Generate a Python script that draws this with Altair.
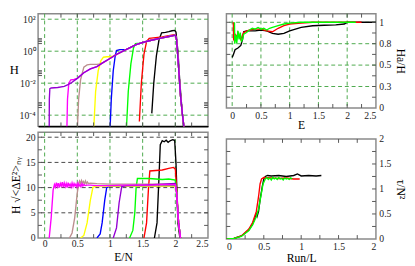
import altair as alt
import pandas as pd

FONT = "Liberation Serif"
FRAME = "#8a8a8a"
TICK = "#555555"
GGRID = "#4aa84a"
KGRID = "#444444"

# ---------------- Panel 1 (top-left): H vs E/N, log scale ----------------
env_x = [0.10, 0.20, 0.30, 0.35, 0.40, 0.50, 0.60, 0.70, 0.80, 0.90, 1.00,
         1.10, 1.20, 1.30, 1.40, 1.50, 1.60, 1.70, 1.80, 1.90, 2.00]
env_h = [5.0e-3, 5.4e-3, 6.3e-3, 7.9e-3, 1.0e-2, 2.0e-2, 4.5e-2, 7.9e-2, 0.11, 0.20, 0.35,
         0.63, 1.0, 1.6, 2.6, 3.5, 4.5, 5.6, 6.8, 8.3, 10.0]
tail_x = [2.02, 2.05, 2.08, 2.11, 2.14]
tail_h = [5.0, 0.1, 1.6e-3, 1e-4, 1e-5]

p1_violet_x = [0.07, 0.072, 0.08]
p1_violet_h = [1e-5, 1e-3, 4.6e-3]
p1_magenta_x = [0.34, 0.35, 0.37, 0.40, 0.45, 0.50]
p1_magenta_h = [1e-5, 1e-3, 1.0e-2, 1.6e-2, 1.7e-2, 2.0e-2]
p1_brown_x = [0.50, 0.52, 0.55, 0.60, 0.65, 0.70, 0.75, 0.80, 0.85]
p1_brown_h = [1e-5, 1e-3, 1.6e-2, 0.10, 0.14, 0.15, 0.15, 0.15, 0.16]
p1_yellow_x = [0.75, 0.78, 0.82, 0.86, 0.90, 0.95, 1.00, 1.05]
p1_yellow_h = [1e-5, 3e-3, 6e-2, 0.25, 0.42, 0.45, 0.45, 0.48]
p1_blue_x = [1.00, 1.02, 1.05, 1.08, 1.10, 1.15, 1.20, 1.25]
p1_blue_h = [1e-5, 1e-3, 6e-2, 0.5, 1.1, 1.25, 1.25, 1.3]
p1_green_x = [1.25, 1.28, 1.32, 1.36, 1.39, 1.45]
p1_green_h = [1e-5, 3e-3, 0.16, 1.6, 3.0, 3.2]
p1_red_x = [1.45, 1.48, 1.52, 1.56, 1.60, 1.70, 1.80, 1.90, 2.00, 2.02, 2.05, 2.08, 2.11, 2.14]
p1_red_h = [4e-5, 1e-2, 0.63, 4.0, 6.3, 7.1, 7.9, 9.5, 11.2, 5.0, 0.1, 1.6e-3, 1e-4, 1e-5]
p1_black_x = [1.64, 1.67, 1.71, 1.75, 1.79, 1.85, 1.90, 1.95, 1.99, 2.01, 2.04, 2.07, 2.10, 2.13]
p1_black_h = [1.3e-4, 1e-2, 0.5, 5.0, 14.0, 15.0, 16.6, 19.0, 20.0, 16.0, 1.0, 1e-2, 3e-4, 1e-5]

p1_ytick_vals = [1e-4, 1e-2, 1, 100]
p1_ytick_text = ["10⁻⁴", "10⁻²", "10⁰", "10²"]
p1_minor_y = [3e-4, 4e-4, 5e-4, 6e-4, 3e-2, 4e-2, 5e-2, 6e-2, 3, 4, 5, 6]
p1_grid_x = [0, 0.5, 1, 1.5, 2]
p1_grid_y = [1e-4, 1e-2, 1, 100]
p1_ticks_x = [0.25, 0.5, 0.75, 1.0, 1.25, 1.5, 1.75, 2.0, 2.25]

# ---------------- Panel 2 (bottom-left): H sqrt(<dE^2>) vs E/N ----------------
p2_magenta_x = [0.07, 0.10, 0.13, 0.15, 0.165, 0.18, 0.195, 0.21, 0.225, 0.24, 0.255, 0.27,
                0.285, 0.30, 0.315, 0.33, 0.345, 0.36, 0.375, 0.39, 0.405, 0.42, 0.435,
                0.45, 0.465, 0.48, 0.495, 0.51, 0.525, 0.54, 0.555, 0.57, 0.585, 0.60,
                0.62, 0.65, 0.70, 0.80, 1.00, 1.20, 1.40, 1.60, 1.80, 2.00, 2.02, 2.05, 2.08]
p2_magenta_y = [0.0, 4.0, 9.5, 10.6, 10.1, 11.0, 10.2, 10.9, 10.0, 10.8, 10.3, 11.1,
                10.1, 10.9, 10.2, 10.8, 10.0, 11.0, 10.3, 10.7, 10.1, 10.9, 10.2,
                10.8, 10.3, 10.7, 10.1, 10.9, 10.3, 10.6, 10.2, 10.8, 10.3, 10.6,
                10.4, 10.5, 10.5, 10.4, 10.4, 10.5, 10.5, 10.5, 10.6, 10.6, 9.0, 3.0, 0.0]
p2_brown_x = [0.38, 0.42, 0.46, 0.50, 0.52, 0.535, 0.55, 0.565, 0.58, 0.595, 0.61, 0.625,
              0.64, 0.655, 0.67, 0.70, 0.80, 1.00, 1.50, 2.00, 2.02, 2.05, 2.08]
p2_brown_y = [0.0, 1.0, 4.0, 9.0, 10.6, 11.3, 10.8, 11.4, 10.9, 11.2, 10.7, 11.3,
              10.8, 11.1, 10.8, 10.9, 10.8, 10.7, 10.7, 10.7, 9.0, 3.0, 0.0]
p2_yellow_x = [0.55, 0.60, 0.65, 0.70, 0.74, 0.80, 1.20, 1.60, 2.00, 2.02, 2.05, 2.08]
p2_yellow_y = [0.0, 0.5, 3.0, 7.5, 10.1, 10.3, 10.3, 10.3, 10.3, 9.0, 3.0, 0.0]
p2_blue_x = [0.80, 0.85, 0.88, 0.92, 0.95, 1.00, 1.50, 2.00, 2.02, 2.05, 2.08]
p2_blue_y = [0.0, 0.8, 3.0, 7.5, 10.0, 10.3, 10.3, 10.4, 9.0, 3.0, 0.0]
p2_violet_x = [1.05, 1.10, 1.14, 1.18, 1.25, 1.50, 1.80, 2.00, 2.02, 2.05, 2.08]
p2_violet_y = [0.0, 2.0, 7.0, 10.2, 10.4, 10.5, 10.7, 10.8, 9.0, 3.0, 0.0]
p2_green_x = [1.30, 1.35, 1.38, 1.40, 1.42, 1.60, 1.80, 1.90, 2.00, 2.02, 2.05, 2.08]
p2_green_y = [0.0, 1.5, 5.0, 10.0, 11.8, 11.8, 11.6, 11.7, 11.5, 9.5, 3.0, 0.0]
p2_red_x = [1.52, 1.56, 1.59, 1.61, 1.70, 1.80, 1.90, 1.97, 2.00, 2.02, 2.05, 2.08]
p2_red_y = [0.0, 3.0, 10.0, 13.3, 13.4, 13.5, 13.8, 14.0, 13.7, 10.0, 3.0, 0.0]
p2_black_x = [1.68, 1.72, 1.75, 1.77, 1.80, 1.83, 1.86, 1.89, 1.92, 1.96, 1.99, 2.01, 2.04, 2.07]
p2_black_y = [0.0, 3.0, 12.0, 18.5, 19.3, 19.1, 19.4, 19.0, 19.3, 19.5, 19.4, 15.0, 3.0, 0.0]

p2_xtick_vals = [0, 0.5, 1, 1.5, 2, 2.5]
p2_ytick_vals = [0, 5, 10, 15, 20]
p2_grid_x = [0, 0.5, 1, 1.5, 2]
p2_grid_y = [5, 10, 15, 20]
p2_ticks_x = [0.25, 0.5, 0.75, 1.0, 1.25, 1.5, 1.75, 2.0, 2.25]
p2_ticks_y = [2.5, 5, 7.5, 10, 12.5, 15, 17.5, 20]

# ---------------- Panel 3 (top-right): Ha/H vs E ----------------
p3_black_x = [0.0, 0.02, 0.05, 0.10, 0.15, 0.18, 0.20, 0.25, 0.30, 0.40, 0.50, 0.60, 0.70,
              0.80, 0.90, 1.00, 1.20, 1.40, 1.60, 1.80, 1.95, 2.00, 2.50]
p3_black_y = [0.59, 0.62, 0.68, 0.70, 0.73, 0.80, 0.89, 0.90, 0.90, 0.90, 0.91, 0.90, 0.87,
              0.86, 0.87, 0.90, 0.94, 0.96, 0.965, 0.97, 0.98, 1.0, 1.0]
p3_red_x = [0.02, 0.025, 0.04, 0.06, 0.08, 0.10, 0.15, 0.20, 0.30, 0.40, 0.50, 0.60, 0.70,
            0.80, 0.90, 1.00, 1.20, 1.40, 2.25]
p3_red_y = [1.0, 0.80, 0.78, 0.85, 0.82, 0.88, 0.80, 0.88, 0.91, 0.92, 0.92, 0.90, 0.89,
            0.93, 0.96, 0.98, 0.99, 1.0, 1.0]
p3_green_x = [0.04, 0.045, 0.06, 0.08, 0.10, 0.12, 0.14, 0.16, 0.18, 0.20, 0.25, 0.30, 0.35,
              0.40, 0.45, 0.50, 0.55, 0.60, 0.65, 0.70, 0.80, 0.90, 1.00, 1.20, 2.15]
p3_green_y = [1.0, 0.75, 0.85, 0.76, 0.90, 0.80, 0.88, 0.78, 0.80, 0.86, 0.88, 0.91, 0.93,
              0.92, 0.94, 0.92, 0.93, 0.91, 0.93, 0.94, 0.96, 0.98, 0.99, 1.0, 1.0]
p3_xtick_vals = [0, 0.5, 1, 1.5, 2, 2.5]
p3_ytick_vals = [0, 0.25, 0.5, 0.75, 1]
p3_grid_x = [0, 0.5, 1, 1.5, 2]
p3_grid_y = [0.25, 0.5, 0.75, 1]
p3_ticks_x = [0.25, 0.5, 0.75, 1.0, 1.25, 1.5, 1.75, 2.0, 2.25]
p3_ticks_y = [0.125, 0.25, 0.375, 0.5, 0.625, 0.75, 0.875, 1.0]

# ---------------- Panel 4 (bottom-right): tau/N^2 vs Run/L ----------------
p4_black_x = [0.0, 0.10, 0.20, 0.30, 0.35, 0.38, 0.40, 0.41, 0.43, 0.45, 0.48, 0.50, 0.52,
              0.55, 0.60, 0.70, 0.80, 0.90, 0.95, 1.00, 1.10, 1.20, 1.27]
p4_black_y = [0.0, 0.01, 0.06, 0.18, 0.30, 0.42, 0.50, 0.45, 0.55, 0.78, 1.05, 1.20, 1.25,
              1.27, 1.26, 1.27, 1.25, 1.27, 1.30, 1.26, 1.27, 1.26, 1.27]
p4_red_x = [0.0, 0.10, 0.20, 0.30, 0.35, 0.40, 0.43, 0.45, 0.47, 0.50, 0.60, 0.70, 0.80, 0.90, 0.98]
p4_red_y = [0.0, 0.01, 0.06, 0.20, 0.33, 0.55, 0.85, 1.10, 1.20, 1.23, 1.22, 1.21, 1.22, 1.20, 1.20]
p4_green_x = [0.0, 0.10, 0.20, 0.30, 0.35, 0.40, 0.43, 0.46, 0.49, 0.52, 0.54, 0.56, 0.58,
              0.60, 0.62, 0.64, 0.66, 0.68, 0.70, 0.72, 0.74, 0.76, 0.78, 0.80, 0.82, 0.84, 0.86, 0.88]
p4_green_y = [0.0, 0.01, 0.05, 0.17, 0.28, 0.45, 0.60, 0.85, 1.10, 1.20, 1.23, 1.19, 1.22,
              1.18, 1.23, 1.20, 1.22, 1.19, 1.23, 1.20, 1.21, 1.18, 1.22, 1.20, 1.21, 1.19, 1.22, 1.20]
p4_xtick_vals = [0, 0.5, 1, 1.5, 2]
p4_ytick_vals = [0, 0.5, 1, 1.5, 2]
p4_ticks_x = [0.25, 0.5, 0.75, 1.0, 1.25, 1.5, 1.75]
p4_ticks_y = [0.25, 0.5, 0.75, 1.0, 1.25, 1.5, 1.75]

VIOLET, MAGENTA, BROWN, YELLOW = "#9400d3", "#ff00ff", "#bc8f8f", "#ffff00"
BLUE, GREEN, RED, BLACK = "#0000ff", "#00ff00", "#ff0000", "#000000"


def with_env(rx, rh, start):
    xs = list(rx) + [x for x in env_x if x >= start] + tail_x
    hs = list(rh) + [h for x, h in zip(env_x, env_h) if x >= start] + tail_h
    return xs, hs


def panel(series, w, h, X, Y, vgrid, vcol, hgrid, hcol, xt, yt):
    # the same X / Y definitions (with identical axes) are used in every layer
    layers = []
    if vgrid:
        layers.append(alt.Chart(pd.DataFrame({"x": vgrid})).mark_rule(
            color=vcol, strokeDash=[4, 3], strokeWidth=1).encode(x=X))
    if hgrid:
        layers.append(alt.Chart(pd.DataFrame({"y": hgrid})).mark_rule(
            color=hcol, strokeDash=[4, 3], strokeWidth=1).encode(y=Y))
    for color, xs, ys in series:
        df = pd.DataFrame({"x": xs, "y": ys, "i": list(range(len(xs)))})
        layers.append(alt.Chart(df).mark_line(color=color, strokeWidth=1.4, clip=True).encode(
            x=X, y=Y, order="i:Q"))
    dxt = pd.DataFrame({"x": xt})
    dyt = pd.DataFrame({"y": yt})
    layers.append(alt.Chart(dxt).mark_rule(color=TICK).encode(
        x=X, y=alt.value(h), y2=alt.value(h - 4)))
    layers.append(alt.Chart(dxt).mark_rule(color=TICK).encode(
        x=X, y=alt.value(0), y2=alt.value(4)))
    layers.append(alt.Chart(dyt).mark_rule(color=TICK).encode(
        y=Y, x=alt.value(0), x2=alt.value(4)))
    layers.append(alt.Chart(dyt).mark_rule(color=TICK).encode(
        y=Y, x=alt.value(w), x2=alt.value(w - 4)))
    return alt.layer(*layers).properties(width=w, height=h)


# ---- panel 1
W1, H1 = 175, 116
expr = []
for i in range(len(p1_ytick_vals) - 1):
    thr = (p1_ytick_vals[i] * p1_ytick_vals[i + 1]) ** 0.5
    expr.append(f"datum.value < {thr} ? '{p1_ytick_text[i]}' : ")
label_expr1 = "".join(expr) + f"'{p1_ytick_text[-1]}'"
X1 = alt.X("x:Q", scale=alt.Scale(domain=[-0.1, 2.5], nice=False, zero=False),
           axis=alt.Axis(labels=False, title=None, domain=True, domainColor="black",
                         domainWidth=1.5, values=[0, 2.5]))
Y1 = alt.Y("y:Q", scale=alt.Scale(type="log", domain=[2e-5, 220], nice=False),
           axis=alt.Axis(values=p1_ytick_vals, labelExpr=label_expr1, title="H",
                         titleAngle=0, titleAlign="center", titleBaseline="middle",
                         titleX=-25, titleY=H1 / 2, labelPadding=3, titleFontSize=13,
                         labelOverlap=False))
s1 = [
    (BLACK, p1_black_x, p1_black_h),
    (RED, p1_red_x, p1_red_h),
    (GREEN, *with_env(p1_green_x, p1_green_h, 1.5)),
    (BLUE, *with_env(p1_blue_x, p1_blue_h, 1.3)),
    (YELLOW, *with_env(p1_yellow_x, p1_yellow_h, 1.1)),
    (BROWN, *with_env(p1_brown_x, p1_brown_h, 0.9)),
    (MAGENTA, *with_env(p1_magenta_x, p1_magenta_h, 0.6)),
    (VIOLET, *with_env(p1_violet_x, p1_violet_h, 0.1)),
]
c1 = panel(s1, W1, H1, X1, Y1, p1_grid_x, GGRID, p1_grid_y, GGRID, p1_ticks_x, p1_minor_y)

# ---- panel 2
W2, H2 = 175, 109
X2 = alt.X("x:Q", scale=alt.Scale(domain=[-0.1, 2.5], nice=False, zero=False),
           axis=alt.Axis(values=p2_xtick_vals, format="~g", title="E/N", labelPadding=1,
                         titleY=19, titleBaseline="middle", labelOverlap=False))
Y2 = alt.Y("y:Q", scale=alt.Scale(domain=[0, 21], nice=False),
           axis=alt.Axis(values=p2_ytick_vals, format="~g",
                         title="H √<ΔE²>ₙᵧ", titleAngle=270, titleAlign="center",
                         titleBaseline="middle", titleX=-23, titleY=H2 / 2, labelPadding=3,
                         labelOverlap=False))
s2 = [
    (BLACK, p2_black_x, p2_black_y),
    (RED, p2_red_x, p2_red_y),
    (GREEN, p2_green_x, p2_green_y),
    (BLUE, p2_blue_x, p2_blue_y),
    (YELLOW, p2_yellow_x, p2_yellow_y),
    (BROWN, p2_brown_x, p2_brown_y),
    (VIOLET, p2_violet_x, p2_violet_y),
    (MAGENTA, p2_magenta_x, p2_magenta_y),
]
c2 = panel(s2, W2, H2, X2, Y2, p2_grid_x, GGRID, p2_grid_y, KGRID, p2_ticks_x, p2_ticks_y)

# ---- panel 3
W3, H3 = 154, 97
X3 = alt.X("x:Q", scale=alt.Scale(domain=[-0.1, 2.5], nice=False, zero=False),
           axis=alt.Axis(values=p3_xtick_vals, format="~g", title="E", labelPadding=3,
                         titleY=17, titleBaseline="middle", labelOverlap=False))
Y3 = alt.Y("y:Q", scale=alt.Scale(domain=[0, 1.1], nice=False),
           axis=alt.Axis(values=p3_ytick_vals, format="~g", orient="right", title="Ha/H",
                         titleAngle=90, titleAlign="center", titleBaseline="middle",
                         titleX=25, titleY=H3 / 2, labelPadding=3, labelOverlap=False))
s3 = [(BLACK, p3_black_x, p3_black_y), (RED, p3_red_x, p3_red_y), (GREEN, p3_green_x, p3_green_y)]
c3 = panel(s3, W3, H3, X3, Y3, p3_grid_x, GGRID, p3_grid_y, GGRID, p3_ticks_x, p3_ticks_y)

# ---- panel 4
W4, H4 = 154, 103
X4 = alt.X("x:Q", scale=alt.Scale(domain=[0, 2], nice=False),
           axis=alt.Axis(values=p4_xtick_vals, format="~g", title="Run/L", labelPadding=3,
                         titleY=19, titleBaseline="middle", labelOverlap=False))
Y4 = alt.Y("y:Q", scale=alt.Scale(domain=[0, 2], nice=False),
           axis=alt.Axis(values=p4_ytick_vals, format="~g", orient="right", title="τ/N²",
                         titleAngle=90, titleAlign="center", titleBaseline="middle",
                         titleX=25, titleY=H4 / 2, labelPadding=3, labelOverlap=False))
s4 = [(BLACK, p4_black_x, p4_black_y), (RED, p4_red_x, p4_red_y), (GREEN, p4_green_x, p4_green_y)]
c4 = panel(s4, W4, H4, X4, Y4, [], GGRID, [], GGRID, p4_ticks_x, p4_ticks_y)

left = alt.vconcat(c1, c2, spacing=6, bounds="flush")
right = alt.vconcat(c3, c4, spacing=32, bounds="flush")
chart = alt.hconcat(left, right, spacing=15).properties(
    padding={"left": 0, "top": 0, "right": 0, "bottom": 0}
).configure_view(stroke=FRAME, strokeWidth=1.5).configure_axis(
    labelFont=FONT, titleFont=FONT, labelFontSize=10, titleFontSize=12,
    labelColor="#222222", titleColor="#000000", titleFontWeight="normal",
    ticks=False, domain=False, grid=False
)

chart.save("out.html", embed_options={"renderer": "svg", "actions": False})
